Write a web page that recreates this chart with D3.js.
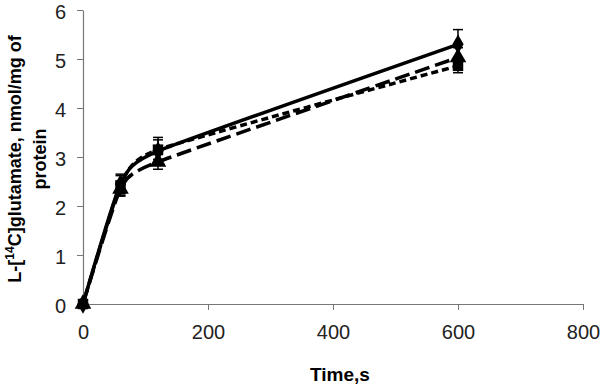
<!DOCTYPE html>
<html>
<head>
<meta charset="utf-8">
<script src="https://cdn.jsdelivr.net/npm/d3@7"></script>
<style>
body { margin: 0; background: #fff; }
.axis path, .axis line { stroke: #777; }
.axis text { font-family: Arial, "Liberation Sans", sans-serif; font-size: 20px; fill: #222; }
</style>
</head>
<body>
<div class="graphic"></div>
<script>
var width = 602;
var height = 385;

// data
var times = [0, 60, 120, 600];
var seriesA = [0, 2.45, 3.12, 5.3];   // solid, diamond
var errA = [0, 0.2, 0.28, 0.3];
var seriesB = [0, 2.42, 3.15, 4.86];  // short dash, square
var errB = [0, 0.2, 0.2, 0.14];
var seriesC = [0, 2.35, 2.9, 5.03];   // long dash, triangle
var errC = [0, 0.15, 0.15, 0.2];
var xTicks = [0, 200, 400, 600, 800];
var yTicks = [0, 1, 2, 3, 4, 5, 6];

var svg = d3.select("div.graphic").append("svg")
	.attr("width", width)
	.attr("height", height);

var x = d3.scaleLinear().domain([0, 800]).range([83, 583]);
var y = d3.scaleLinear().domain([0, 6]).range([304, 10]);

svg.append("g")
	.attr("class", "axis")
	.attr("transform", "translate(0," + y(0) + ")")
	.call(d3.axisBottom(x).tickValues(xTicks).tickFormat(d3.format("d")).tickSize(6).tickSizeOuter(0).tickPadding(15));

svg.append("g")
	.attr("class", "axis yaxis")
	.attr("transform", "translate(" + x(0) + ",0)")
	.call(d3.axisLeft(y).tickValues(yTicks).tickFormat(d3.format("d")).tickSize(6).tickSizeOuter(0).tickPadding(11));

svg.selectAll(".yaxis text").attr("dy", "0.4em");
svg.selectAll(".axis path").attr("stroke-width", 1.2);

// axis titles
svg.append("text")
	.attr("x", 340)
	.attr("y", 381)
	.attr("text-anchor", "middle")
	.style("font-family", "Arial, 'Liberation Sans', sans-serif")
	.style("font-weight", "bold")
	.style("font-size", "19px")
	.text("Time,s");

var ytitle = svg.append("text")
	.attr("transform", "translate(21,159) rotate(-90)")
	.attr("text-anchor", "middle")
	.style("font-family", "Arial, 'Liberation Sans', sans-serif")
	.style("font-weight", "bold")
	.style("font-size", "18px");
ytitle.append("tspan").text("L-[");
ytitle.append("tspan").attr("dy", -7).style("font-size", "12px").text("14");
ytitle.append("tspan").attr("dy", 7).text("C]glutamate, nmol/mg of");
svg.append("text")
	.attr("transform", "translate(46,159) rotate(-90)")
	.attr("text-anchor", "middle")
	.style("font-family", "Arial, 'Liberation Sans', sans-serif")
	.style("font-weight", "bold")
	.style("font-size", "18px")
	.text("protein");

var series = [
	{ values: seriesA, err: errA, dash: null, symbol: d3.symbolDiamond, size: 110 },
	{ values: seriesB, err: errB, dash: "7,4", symbol: d3.symbolSquare, size: 110 },
	{ values: seriesC, err: errC, dash: "15,6", symbol: d3.symbolTriangle, size: 120 }
];

var line = d3.line()
	.x(function (d) { return x(d[0]); })
	.y(function (d) { return y(d[1]); })
	.curve(d3.curveCardinal.tension(0.5));

var plot = svg.append("g");

series.forEach(function (s) {
	var pts = times.map(function (t, i) { return [t, s.values[i], s.err[i]]; });
	var g = plot.append("g");

	// error bars
	g.selectAll("line.err")
		.data(pts.filter(function (d) { return d[2] > 0; }))
		.enter()
		.append("line")
		.attr("x1", function (d) { return x(d[0]); })
		.attr("x2", function (d) { return x(d[0]); })
		.attr("y1", function (d) { return y(d[1] - d[2]); })
		.attr("y2", function (d) { return y(d[1] + d[2]); })
		.attr("stroke", "#000")
		.attr("stroke-width", 1.5);
	[-1, 1].forEach(function (sgn) {
		g.selectAll("line.cap" + sgn)
			.data(pts.filter(function (d) { return d[2] > 0; }))
			.enter()
			.append("line")
			.attr("x1", function (d) { return x(d[0]) - 5; })
			.attr("x2", function (d) { return x(d[0]) + 5; })
			.attr("y1", function (d) { return y(d[1] + sgn * d[2]); })
			.attr("y2", function (d) { return y(d[1] + sgn * d[2]); })
			.attr("stroke", "#000")
			.attr("stroke-width", 1.5);
	});

	g.append("path")
		.attr("d", line(pts))
		.attr("fill", "none")
		.attr("stroke", "#000")
		.attr("stroke-width", 3.5)
		.attr("stroke-dasharray", s.dash);

	g.selectAll("path.mark")
		.data(pts)
		.enter()
		.append("path")
		.attr("d", d3.symbol().type(s.symbol).size(s.size))
		.attr("transform", function (d) { return "translate(" + x(d[0]) + "," + y(d[1]) + ")"; })
		.attr("fill", "#000");
});
</script>
</body>
</html>
